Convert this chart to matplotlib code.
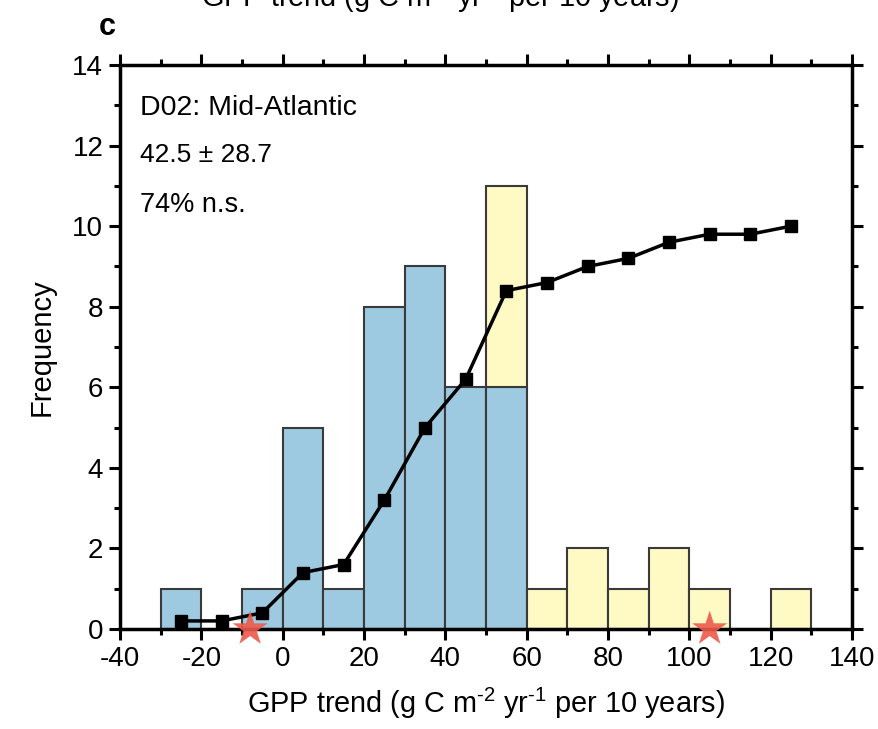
import matplotlib
matplotlib.use("Agg")
import matplotlib.pyplot as plt
from matplotlib.ticker import MultipleLocator

plt.rcParams['font.family'] = ['Liberation Sans', 'DejaVu Sans']
plt.rcParams['mathtext.fontset'] = 'custom'
plt.rcParams['mathtext.rm'] = 'Liberation Sans'
plt.rcParams['axes.unicode_minus'] = False

# bin left edges (width 10)
ns_left = [-30, -20, -10, 0, 10, 20, 30, 40, 50]
ns_count = [1, 0, 1, 5, 1, 8, 9, 6, 6]
sig_left = [50, 60, 70, 80, 90, 100, 110, 120]
sig_count = [5, 1, 2, 1, 2, 1, 0, 1]
sig_bottom = [6, 0, 0, 0, 0, 0, 0, 0]
cum_x = [-25, -15, -5, 5, 15, 25, 35, 45, 55, 65, 75, 85, 95, 105, 115, 125]
cum_y = [0.2, 0.2, 0.4, 1.4, 1.6, 3.2, 5.0, 6.2, 8.4, 8.6, 9.0, 9.2, 9.6, 9.8, 9.8, 10.0]
star_x = [-8, 105]
star_y = [0, 0]

unit_label = 'GPP trend (g C m$^{\\text{-2}}$ yr$^{\\text{-1}}$ per 10 years)'

fig = plt.figure(figsize=(8.79, 7.29), dpi=100)
ax = fig.add_axes([0.1365, 0.1372, 0.8328, 0.7736])

ax.bar(ns_left, ns_count, width=10, align='edge', color='#9ecae1',
       edgecolor='#3a3a3a', linewidth=1.5, zorder=2)
ax.bar(sig_left, sig_count, width=10, bottom=sig_bottom, align='edge',
       color='#fff9c4', edgecolor='#3a3a3a', linewidth=1.5, zorder=2)
ax.plot(cum_x, cum_y, color='black', lw=2.5, marker='s', ms=8.5, zorder=4)
ax.scatter(star_x, star_y, marker='*', s=700, color='#ee5a4a', alpha=0.9,
           edgecolors='none', zorder=6, clip_on=False)

ax.set_xlim(-40, 140)
ax.set_ylim(0, 14)
ax.xaxis.set_major_locator(MultipleLocator(20))
ax.xaxis.set_minor_locator(MultipleLocator(10))
ax.yaxis.set_major_locator(MultipleLocator(2))
ax.yaxis.set_minor_locator(MultipleLocator(1))
ax.tick_params(which='both', direction='out', top=True, right=True,
               labeltop=False, labelright=False, width=2.2)
ax.tick_params(which='major', length=8, labelsize=20, pad=4)
ax.tick_params(which='minor', length=4)
for s in ax.spines.values():
    s.set_linewidth(2.5)
    s.set_zorder(5)

ax.set_xlabel(unit_label, fontsize=20.8, labelpad=10)
ax.set_ylabel('Frequency', fontsize=21, labelpad=12)

ax.text(0.028, 0.924, 'D02: Mid-Atlantic', transform=ax.transAxes, fontsize=20.5, va='center')
ax.text(0.027, 0.840, '42.5 ± 28.7', transform=ax.transAxes, fontsize=19, va='center')
ax.text(0.027, 0.752, '74% n.s.', transform=ax.transAxes, fontsize=19.5, va='center')

fig.text(0.122, 0.963, 'c', fontsize=22, fontweight='bold', ha='center', va='center')
fig.text(0.50, 1.003, unit_label, fontsize=20.8, ha='center', va='center')

fig.savefig('out.png', dpi=100)
